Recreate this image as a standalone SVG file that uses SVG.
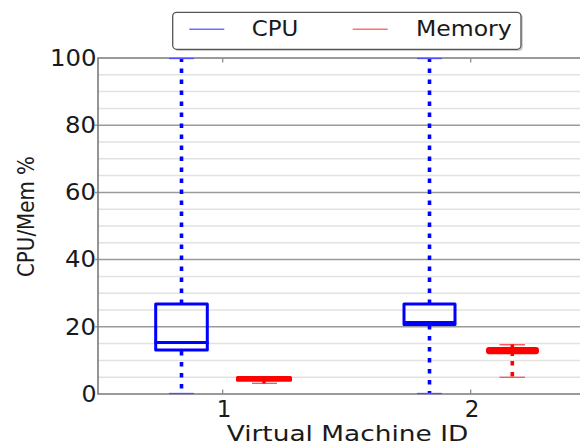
<svg xmlns="http://www.w3.org/2000/svg" width="580" height="446" viewBox="0 0 580 446">
<style>
text{font-family:"DejaVu Sans","Liberation Sans",sans-serif;fill:#1a1a1a}
.minor{stroke:#e2e2e2;stroke-width:1.5}
.major{stroke:#9a9a9a;stroke-width:1.5}
.axis{stroke:#7a7a7a;stroke-width:1.6;fill:none}
.tick{stroke:#888;stroke-width:1.2}
.cbox{fill:none;stroke:#0000ff;stroke-width:3;stroke-linejoin:round}
.cmed{stroke:#0000ff;stroke-width:3.2}
.cwhisk{stroke:#0000ff;stroke-width:3.6;stroke-dasharray:4.5 6.5}
.ccap{stroke:#5050ff;stroke-width:1.3}
.mbox{fill:#ff0000;stroke:#ff0000;stroke-width:3;stroke-linejoin:round}
.mwhisk{stroke:#ff0000;stroke-width:3.6;stroke-dasharray:4.5 6.5}
.mcap{stroke:#ff5050;stroke-width:1.3}
.yt{font-size:23px}
</style>
<rect width="580" height="446" fill="#ffffff"/>
<g id="grid">
<line class="minor" x1="98" y1="377.2" x2="580" y2="377.2"/>
<line class="minor" x1="98" y1="360.4" x2="580" y2="360.4"/>
<line class="minor" x1="98" y1="343.6" x2="580" y2="343.6"/>
<line class="minor" x1="98" y1="310" x2="580" y2="310"/>
<line class="minor" x1="98" y1="293.2" x2="580" y2="293.2"/>
<line class="minor" x1="98" y1="276.4" x2="580" y2="276.4"/>
<line class="minor" x1="98" y1="242.8" x2="580" y2="242.8"/>
<line class="minor" x1="98" y1="226" x2="580" y2="226"/>
<line class="minor" x1="98" y1="209.2" x2="580" y2="209.2"/>
<line class="minor" x1="98" y1="175.6" x2="580" y2="175.6"/>
<line class="minor" x1="98" y1="158.8" x2="580" y2="158.8"/>
<line class="minor" x1="98" y1="142" x2="580" y2="142"/>
<line class="minor" x1="98" y1="108.4" x2="580" y2="108.4"/>
<line class="minor" x1="98" y1="91.6" x2="580" y2="91.6"/>
<line class="minor" x1="98" y1="74.8" x2="580" y2="74.8"/>
<line class="major" x1="95" y1="326.8" x2="580" y2="326.8"/>
<line class="major" x1="95" y1="259.6" x2="580" y2="259.6"/>
<line class="major" x1="95" y1="192.4" x2="580" y2="192.4"/>
<line class="major" x1="95" y1="125.2" x2="580" y2="125.2"/>
</g>
<g id="axes">
<path class="axis" d="M580,58 H98 V394 H580"/>
<line class="tick" x1="222.7" y1="394" x2="222.7" y2="389.5"/>
<line class="tick" x1="470.7" y1="394" x2="470.7" y2="389.5"/>
<line class="tick" x1="222.7" y1="58" x2="222.7" y2="62.5"/>
<line class="tick" x1="470.7" y1="58" x2="470.7" y2="62.5"/>
<text class="yt" x="50" y="65.8" textLength="46.5" lengthAdjust="spacingAndGlyphs">100</text>
<text class="yt" x="65" y="133" textLength="31" lengthAdjust="spacingAndGlyphs">80</text>
<text class="yt" x="65" y="200.2" textLength="31" lengthAdjust="spacingAndGlyphs">60</text>
<text class="yt" x="65" y="267.4" textLength="31" lengthAdjust="spacingAndGlyphs">40</text>
<text class="yt" x="65" y="334.6" textLength="31" lengthAdjust="spacingAndGlyphs">20</text>
<text class="yt" x="81.5" y="401.7" textLength="15" lengthAdjust="spacingAndGlyphs">0</text>
<text class="yt" x="224" y="416.7" text-anchor="middle">1</text>
<text class="yt" x="472" y="416.7" text-anchor="middle">2</text>
<text x="226.7" y="441.2" font-size="22" textLength="241.6" lengthAdjust="spacingAndGlyphs">Virtual Machine ID</text>
<text transform="translate(33.5,216.5) rotate(-90)" text-anchor="middle" font-size="22.5" textLength="121" lengthAdjust="spacingAndGlyphs">CPU/Mem %</text>
</g>
<g id="cpu-vm1">
<line class="cwhisk" x1="181.5" y1="304" x2="181.5" y2="58"/>
<line class="cwhisk" x1="181.5" y1="351" x2="181.5" y2="394"/>
<line class="ccap" x1="169" y1="58.5" x2="194" y2="58.5"/>
<line class="ccap" x1="169" y1="393.5" x2="194" y2="393.5"/>
<rect class="cbox" x="155.7" y="304" width="51.6" height="46"/>
<line class="cmed" x1="154.5" y1="342.5" x2="208.5" y2="342.5"/>
</g>
<g id="cpu-vm2">
<line class="cwhisk" x1="429.5" y1="304" x2="429.5" y2="58"/>
<line class="cwhisk" x1="429.5" y1="325" x2="429.5" y2="394"/>
<line class="ccap" x1="417" y1="58.5" x2="442" y2="58.5"/>
<line class="ccap" x1="417" y1="393.5" x2="442" y2="393.5"/>
<rect class="cbox" x="404" y="304" width="51" height="20.5"/>
<line class="cmed" x1="403" y1="322.5" x2="456" y2="322.5"/>
</g>
<g id="mem-vm1">
<line class="mcap" x1="252" y1="383.3" x2="277" y2="383.3"/>
<line x1="264" y1="380" x2="264" y2="383.5" stroke="#ff0000" stroke-width="3.4"/>
<rect class="mbox" x="237.5" y="377.6" width="53" height="2.6"/>
</g>
<g id="mem-vm2">
<line class="mcap" x1="499.5" y1="344.7" x2="525" y2="344.7"/>
<line x1="512.3" y1="344.5" x2="512.3" y2="356" stroke="#ff0000" stroke-width="3.6"/>
<line class="mwhisk" x1="512.3" y1="361" x2="512.3" y2="378"/>
<line class="mcap" x1="499.5" y1="377.3" x2="525" y2="377.3"/>
<rect class="mbox" x="487.5" y="348.6" width="50" height="4.2" rx="1.5"/>
</g>
<g id="legend">
<rect x="174.5" y="14" width="348.3" height="37" rx="4" fill="#a8a8a8" opacity="0.6"/>
<rect x="172.7" y="12.3" width="348.3" height="37" rx="4" fill="#ffffff" stroke="#555" stroke-width="1.3"/>
<line x1="189.3" y1="29.3" x2="224.3" y2="29.3" stroke="#7070ff" stroke-width="1.4"/>
<text x="251.7" y="36.2" font-size="21.5" textLength="46.6" lengthAdjust="spacingAndGlyphs">CPU</text>
<line x1="352.7" y1="29.3" x2="387.7" y2="29.3" stroke="#ff7070" stroke-width="1.4"/>
<text x="416" y="36.2" font-size="21.5" textLength="95.7" lengthAdjust="spacingAndGlyphs">Memory</text>
</g>
</svg>
